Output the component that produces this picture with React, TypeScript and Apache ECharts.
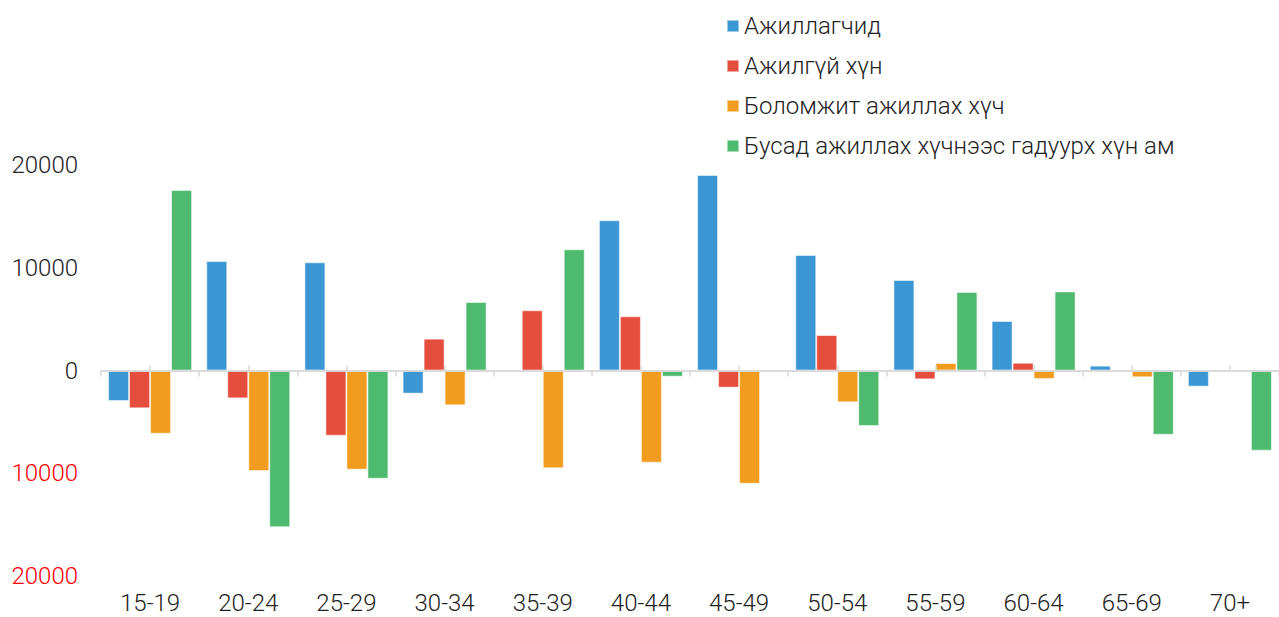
import React, { useEffect, useRef } from "react";
import * as echarts from "echarts";

const categories = ["15-19", "20-24", "25-29", "30-34", "35-39", "40-44", "45-49", "50-54", "55-59", "60-64", "65-69", "70+"];
const seriesNames = ["Ажиллагчид", "Ажилгүй хүн", "Боломжит ажиллах хүч", "Бусад ажиллах хүчнээс гадуурх хүн ам"];
const employed = [-2970, 10660, 10530, -2250, 100, 14620, 19030, 11240, 8810, 4820, 470, -1570];
const unemployed = [-3680, -2710, -6340, 3100, 5860, 5270, -1670, 3450, -860, 760, 0, 0];
const potential = [-6150, -9780, -9650, -3390, -9520, -8970, -11020, -3100, 730, -830, -660, 0];
const outside = [17570, -15260, -10530, 6670, 11790, -600, -60, -5400, 7640, 7700, -6250, -7800];
const yTicks = { min: -20000, max: 20000, interval: 10000 };
const colors = ["#3B97D4", "#E54D3C", "#F29C1F", "#4EBA6F"];

const FONT = "Roboto";
const TEXT = "#222222";
const AXIS = "#D9D9D9";

export default function App() {
  const ref = useRef<HTMLDivElement>(null);
  useEffect(() => {
    if (!ref.current) return;
    const chart = echarts.init(ref.current, null, { renderer: "svg" });
    const gridRect = { left: 101, top: 165, width: 1182, height: 411 };
    const hiddenY = (gi: number) => ({
      type: "value",
      gridIndex: gi,
      min: yTicks.min,
      max: yTicks.max,
      interval: yTicks.interval,
      show: false,
    });
    const data = [employed, unemployed, potential, outside];
    chart.setOption({
      animation: false,
      color: colors,
      textStyle: { fontFamily: FONT },
      legend: {
        orient: "vertical",
        left: 726,
        top: 14,
        padding: 0,
        itemWidth: 12,
        itemHeight: 12,
        itemGap: 16,
        itemTextGap: 7,
        icon: "rect",
        textStyle: { fontSize: 24, lineHeight: 24, fontFamily: FONT, fontWeight: 300, color: TEXT },
        data: seriesNames,
      },
      grid: [
        { ...gridRect, containLabel: false },
        { ...gridRect, containLabel: false },
        { ...gridRect, containLabel: false },
      ],
      xAxis: [
        {
          type: "category",
          gridIndex: 0,
          data: categories,
          z: 10,
          axisLine: { show: true, onZero: true, lineStyle: { color: AXIS, width: 1.5 } },
          axisTick: { show: true, length: 6, lineStyle: { color: AXIS, width: 1.5 } },
          axisLabel: { show: false },
        },
        {
          type: "category",
          gridIndex: 1,
          data: categories,
          z: 10,
          axisLine: { show: true, onZero: true, lineStyle: { color: AXIS, width: 1.5 } },
          axisTick: { show: true, alignWithLabel: true, inside: true, length: 5, lineStyle: { color: AXIS, width: 1.5 } },
          axisLabel: { show: false },
        },
        {
          type: "category",
          gridIndex: 2,
          data: categories,
          position: "bottom",
          axisLine: { show: false, onZero: false },
          axisTick: { show: false },
          axisLabel: { show: true, margin: 15, fontSize: 24, lineHeight: 24, fontFamily: FONT, fontWeight: 300, color: TEXT },
        },
      ],
      yAxis: [
        {
          type: "value",
          gridIndex: 0,
          min: yTicks.min,
          max: yTicks.max,
          interval: yTicks.interval,
          axisLine: { show: false },
          axisTick: { show: false },
          splitLine: { show: false },
          axisLabel: {
            margin: 23,
            fontSize: 24,
            fontFamily: FONT,
            fontWeight: 300,
            formatter: (v: number) => String(Math.abs(v)),
            color: (v: any) => (Number(v) < 0 ? "#FF0000" : TEXT),
          },
        },
        hiddenY(1),
        hiddenY(2),
      ],
      series: seriesNames.map((name, i) => ({
        name,
        type: "bar",
        xAxisIndex: 0,
        yAxisIndex: 0,
        data: data[i],
        barWidth: 21,
        barGap: "0%",
        itemStyle: { color: colors[i], borderColor: "rgba(255,255,255,0.5)", borderWidth: 1 },
      })),
    });
    return () => chart.dispose();
  }, []);
  return (
    <div
      ref={ref}
      style={{ position: "fixed", left: 0, top: 0, width: 1279, height: 617, background: "#fff" }}
    />
  );
}
